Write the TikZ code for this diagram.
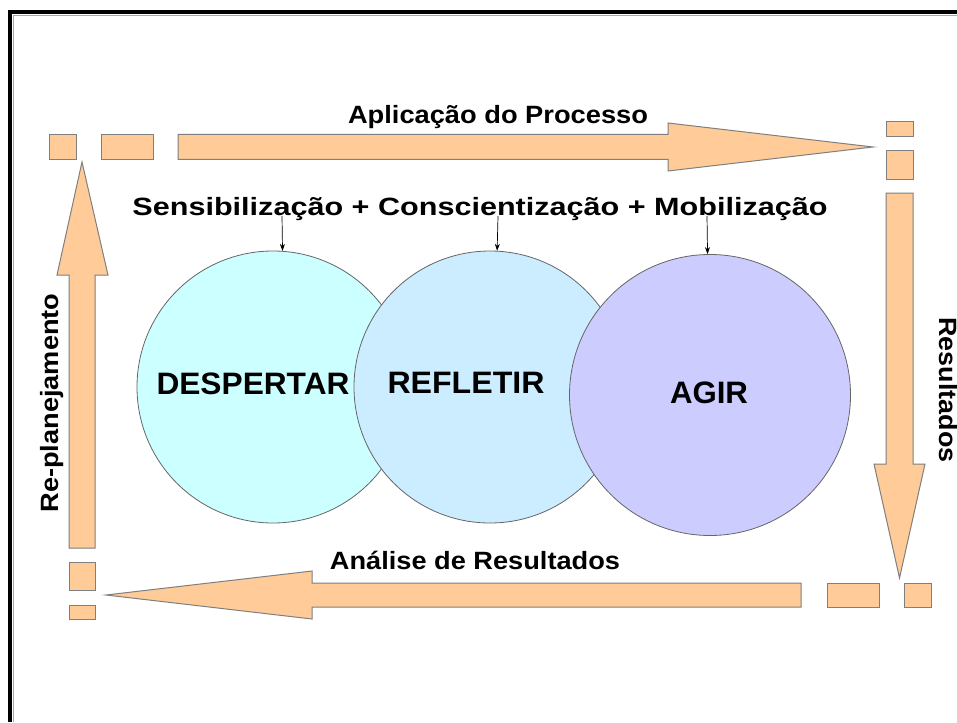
\documentclass[tikz,border=0pt]{standalone}
\usepackage{fontspec}
\setmainfont{Liberation Sans}
\usepackage{graphicx}
\usetikzlibrary{arrows.meta}
\definecolor{blockfill}{HTML}{FFCC99}
\definecolor{blockline}{HTML}{7F7F7F}
\definecolor{cA}{HTML}{CCFFFF}
\definecolor{cB}{HTML}{CCECFF}
\definecolor{cC}{HTML}{CCCCFF}
\newcommand\stretchto[2]{\resizebox{#1pt}{\height}{#2}}
\tikzset{
  block/.style={fill=blockfill, draw=blockline, line width=1pt, line join=miter},
  bubble/.style={circle, draw=black!60, line width=0.8pt, inner sep=0pt},
  lbl/.style={font=\bfseries\fontsize{25}{29}\selectfont, inner sep=0pt},
  big/.style={font=\bfseries\fontsize{31}{35}\selectfont, inner sep=0pt},
  pointer/.style={-{Stealth[length=7pt,width=5pt]}, line width=0.7pt, black}
}
\begin{document}
\begin{tikzpicture}[x=1pt,y=-1pt]
\useasboundingbox (0,0) rectangle (957,722);
\fill[white] (0,0) rectangle (957,722);
% frame
\draw[black!35, line width=1pt] (13.5,722) -- (13.5,15.5) -- (957,15.5);
\draw[black, line width=4pt] (10,722) -- (10,12) -- (957,12);

% top
\draw[block] (49,134.5) rectangle (76,159.5);
\draw[block] (101,134.5) rectangle (153,159.5);
\draw[block] (178,134.5) -- (668,134.5) -- (668,123) -- (873,147) -- (668,171) -- (668,159.5) -- (178,159.5) -- cycle;
% right
\draw[block] (886,122) rectangle (913,137);
\draw[block] (886,151) rectangle (913,179);
\draw[block] (886,193) -- (913,193) -- (913,464) -- (925,464) -- (899.5,578) -- (874,464) -- (886,464) -- cycle;
% bottom
\draw[block] (827,583) rectangle (879,607);
\draw[block] (904,583) rectangle (931,607);
\draw[block] (801,583) -- (312,583) -- (312,571) -- (106,595) -- (312,619) -- (312,607) -- (801,607) -- cycle;
% left
\draw[block] (69,562) rectangle (95,590);
\draw[block] (69,605) rectangle (95,619);
\draw[block] (69,548) -- (69,275) -- (57,275) -- (82,162) -- (108,275) -- (95,275) -- (95,548) -- cycle;

% labels
\node[lbl] (apl) at (498,117) {\stretchto{300}{Aplicação do Processo}};
\node[lbl] (scm) at (480,209) {\stretchto{695}{Sensibilização + Conscientização + Mobilização}};
\node[lbl] (ana) at (475,560) {\stretchto{290}{Análise de Resultados}};
\node[lbl, rotate=90] (rep) at (52,403) {\stretchto{219}{Re-planejamento}};
\node[lbl, rotate=-90] (res) at (948,390) {\stretchto{145}{Resultados}};

% circles
\node[bubble, fill=cA, minimum size=272pt] (c1) at (273,387) {};
\node[bubble, fill=cB, minimum size=272pt] (c2) at (490,387) {};
\node[bubble, fill=cC, minimum size=281pt] (c3) at (710,395) {};

\node[big] (t1) at (253,384) {\stretchto{193}{DESPERTAR}};
\node[big] (t2) at (466,383) {\stretchto{157}{REFLETIR}};
\node[big] (t3) at (709,393) {\stretchto{78}{AGIR}};

% pointers
\coordinate (p1) at (282,216);
\coordinate (p2) at (498,216);
\coordinate (p3) at (707,216);
\draw[pointer] (p1) -- (c1.86);
\draw[pointer] (p2) -- (c2.87);
\draw[pointer] (p3) -- (c3.91);
\end{tikzpicture}
\end{document}
